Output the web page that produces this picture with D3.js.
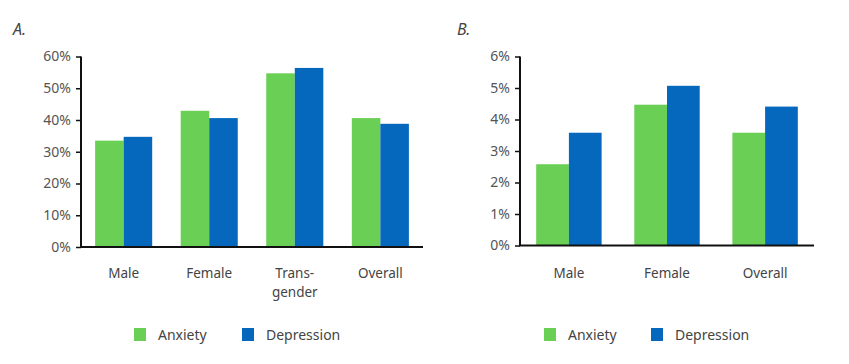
<!DOCTYPE html>
<html><head><meta charset="utf-8">
<script src="https://cdn.jsdelivr.net/npm/d3@7"></script>
<style>
html,body{margin:0;padding:0;background:#fff;}
text{font-family:"Noto Sans","Open Sans",sans-serif;}
</style></head>
<body><svg id="chart" width="849" height="364"></svg>
<script>
const seriesNames = ["Anxiety", "Depression"];
const colors = ["#6acf55", "#0568bd"];

const catsA = [["Male"], ["Female"], ["Trans-", "gender"], ["Overall"]];
const anxA = [33.5, 42.9, 54.7, 40.6];
const depA = [34.7, 40.6, 56.4, 38.8];
const ticksA = [0, 10, 20, 30, 40, 50, 60];

const catsB = [["Male"], ["Female"], ["Overall"]];
const anxB = [2.58, 4.47, 3.58];
const depB = [3.58, 5.07, 4.41];
const ticksB = [0, 1, 2, 3, 4, 5, 6];

const svg = d3.select("#chart");

function panel(opt) {
  const g = svg.append("g");
  const x = d3.scaleBand().domain(d3.range(opt.cats.length))
    .range([opt.x0, opt.x1]).paddingInner(0.333).paddingOuter(0.165);
  const xs = d3.scaleBand().domain([0, 1]).range([0, x.bandwidth()]);
  const y = d3.scaleLinear().domain([0, opt.max]).range([opt.yb, opt.yt]);

  g.append("text").attr("x", opt.titleX).attr("y", 35)
    .attr("font-size", 16).attr("font-style", "italic").attr("fill", "#444").text(opt.title);

  const vals = [opt.anx, opt.dep];
  vals.forEach((arr, si) => {
    g.selectAll(null).data(arr).enter().append("rect")
      .attr("x", (d, i) => x(i) + xs(si))
      .attr("width", xs.bandwidth())
      .attr("y", d => y(d))
      .attr("height", d => y(0) - y(d))
      .attr("fill", colors[si]);
  });

  const ya = g.append("g").attr("transform", `translate(${opt.x0},0)`)
    .call(d3.axisLeft(y).tickValues(opt.ticks).tickFormat(d => d + "%").tickSize(5).tickPadding(5));
  ya.select(".domain").attr("stroke", "#111").attr("stroke-width", 2)
    .attr("d", `M0,${opt.yt}V${opt.yb}`);
  ya.selectAll(".tick line").attr("stroke", "#111").attr("stroke-width", 1.5);
  ya.selectAll(".tick text").attr("font-size", 14).attr("fill", "#555")
    .attr("font-family", "'Noto Sans','Open Sans',sans-serif");

  g.append("line").attr("x1", opt.x0 - 1).attr("x2", opt.x1)
    .attr("y1", y(0)).attr("y2", y(0)).attr("stroke", "#111").attr("stroke-width", 2);

  opt.cats.forEach((lines, i) => {
    const t = g.append("text").attr("x", x(i) + x.bandwidth() / 2).attr("y", 278)
      .attr("text-anchor", "middle").attr("font-size", 13.5).attr("fill", "#444");
    lines.forEach((l, k) => t.append("tspan").attr("x", x(i) + x.bandwidth() / 2)
      .attr("dy", k === 0 ? 0 : 19).text(l));
  });

  seriesNames.forEach((s, si) => {
    const lx = opt.legX[si];
    g.append("rect").attr("x", lx).attr("y", 328).attr("width", 12).attr("height", 13)
      .attr("fill", colors[si]);
    g.append("text").attr("x", lx + 24).attr("y", 340).attr("font-size", 14)
      .attr("fill", "#444").text(s);
  });
}

panel({ title: "A.", titleX: 13, cats: catsA, anx: anxA, dep: depA, ticks: ticksA, max: 60,
  x0: 81, x1: 423, yb: 247, yt: 56.5, legX: [134, 242] });
panel({ title: "B.", titleX: 457, cats: catsB, anx: anxB, dep: depB, ticks: ticksB, max: 6,
  x0: 520, x1: 814, yb: 245.5, yt: 56.5, legX: [544, 651] });
</script></body></html>
